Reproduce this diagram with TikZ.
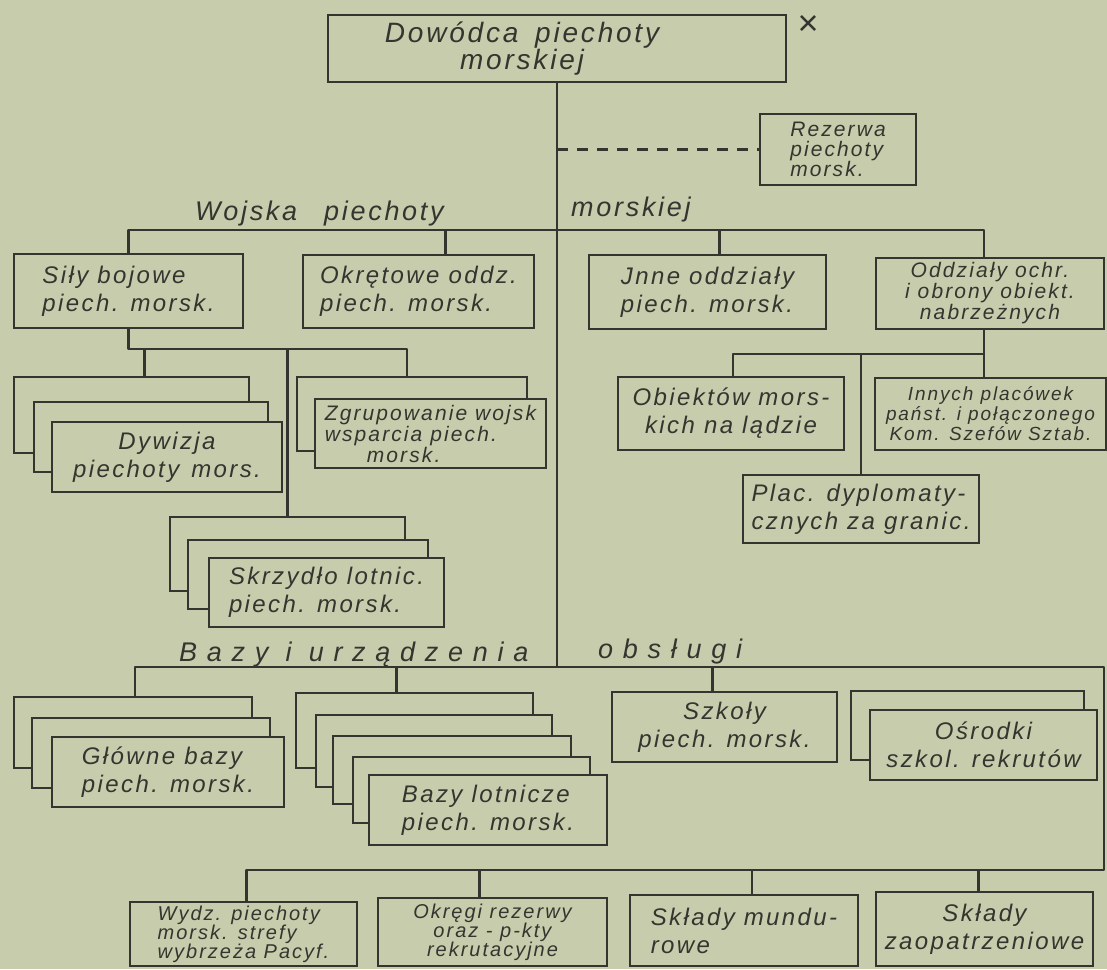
\documentclass[tikz,border=0pt]{standalone}
\usepackage{fontspec}
\setmainfont{Liberation Sans}[LetterSpace=10]
\newfontfamily\spacedfont{Liberation Sans}[LetterSpace=36]
\usepackage{tikz}

\definecolor{paper}{RGB}{199,205,172}
\definecolor{ink}{RGB}{52,53,47}

\tikzset{
  box/.style={draw=ink, fill=paper, line width=2.3pt, inner sep=0pt, align=center, text=ink},
  wh/.style 2 args={minimum width=#1pt, minimum height=#2pt},
  two/.style={font=\itshape\fontsize{24}{28}\selectfont},
  three/.style={font=\itshape\fontsize{21}{21}\selectfont},
  small/.style={font=\itshape\fontsize{20}{19}\selectfont},
  bus/.style={draw=ink, line width=2.3pt, line join=round},
  head/.style={anchor=base west, inner sep=0pt, text=ink, font=\itshape\fontsize{27}{30}\selectfont},
}

\begin{document}
\begin{tikzpicture}[x=1pt,y=1pt,yscale=-1]

% paper
\fill[paper] (0,0) rectangle (1107,969);
\useasboundingbox (0,0) rectangle (1107,969);

% levels of the buses
\coordinate (busA) at (0,230);
\coordinate (busS) at (0,349);
\coordinate (busO) at (0,354);
\coordinate (busB) at (0,667);
\coordinate (busC) at (0,870);
\coordinate (rgt) at (1104,0);

% head
\node[box, wh={458}{67}, font=\itshape\fontsize{28}{27}\selectfont] (boss) at (557,48.5) {Dowódca\hspace{0.6em}piechoty\rule{70pt}{0pt}\\morskiej\rule{70pt}{0pt}};
\node[text=ink, inner sep=0pt, font=\fontsize{36}{36}\selectfont] (mark) at (808,25) {×};
\node[box, wh={156}{71}, align=left, font=\itshape\fontsize{21}{19.5}\selectfont] (rez) at (838,149.5) {Rezerwa\\piechoty\\morsk.};

% headings
\node[head] (hWojska) at (195,220) {Wojska\hspace{1em}piechoty};
\node[head] (hMorskiej) at (571,216) {morskiej};
\node[head, font=\spacedfont\itshape\fontsize{27}{30}\selectfont] (hBazy) at (179,661) {Bazy i urządzenia};
\node[head, font=\spacedfont\itshape\fontsize{27}{30}\selectfont] (hObs) at (598,658) {obsługi};

% upper level
\node[box, two, align=left, wh={229}{74}] (sily) at (128.5,291) {Siły bojowe\\piech. morsk.};
\node[box, two, align=left, wh={231}{73}] (okret) at (418.5,291.5) {Okrętowe oddz.\\piech. morsk.};
\node[box, two, align=left, wh={237}{74}] (inne) at (707.5,292) {Jnne oddziały\\piech. morsk.};
\node[box, three, wh={228}{71}] (odd) at (990,293.5) {Oddziały ochr.\\i obrony obiekt.\\nabrzeżnych};

% Dywizja
\node[box, wh={235}{76}] (dyw1) at (131.5,415) {};
\node[box, wh={234}{70}] (dyw2) at (151,437) {};
\node[box, two, wh={230}{70}] (dyw) at (167,457) {Dywizja\\piechoty\hspace{0.5em}mors.};
% Zgrupowanie
\node[box, wh={230}{74}] (zgr1) at (412,414) {};
\node[box, three, align=left, wh={231}{69}] (zgr) at (430.5,433.5) {Zgrupowanie wojsk\\wsparcia piech.\\\hspace{2em}morsk.};
% Skrzydlo
\node[box, wh={235}{74}] (skr1) at (287.5,554) {};
\node[box, wh={240}{69}] (skr2) at (308,574.5) {};
\node[box, two, align=left, wh={235}{69}] (skr) at (326.5,592.5) {Skrzydło lotnic.\\piech. morsk.};

% under Oddzialy
\node[box, two, wh={226}{73}] (obi) at (731,413.5) {Obiektów mors-\\kich na lądzie};
\node[box, font=\itshape\fontsize{19}{20}\selectfont, wh={231}{72}] (inn) at (990.5,414) {Innych placówek\\państ. i połączonego\\Kom. Szefów Sztab.};
\node[box, two, align=left, wh={236}{68}] (plac) at (861,509) {Plac. dyplomaty-\\cznych za granic.};

% bases
\node[box, wh={238}{71}] (glo1) at (133,732.5) {};
\node[box, wh={238}{70}] (glo2) at (151,753) {};
\node[box, two, align=left, wh={232}{70}] (glo) at (168,772) {Główne bazy\\piech. morsk.};
\node[box, wh={237}{75}] (baz1) at (414.5,730.5) {};
\node[box, wh={236}{72}] (baz2) at (434,751) {};
\node[box, wh={238}{68}] (baz3) at (452,770) {};
\node[box, wh={237}{66}] (baz4) at (471.5,790) {};
\node[box, two, align=left, wh={238}{70}] (baz) at (488,810) {Bazy lotnicze\\piech. morsk.};
\node[box, two, wh={225}{70}] (szk) at (724.5,727) {Szkoły\\piech. morsk.};
\node[box, wh={233}{69}] (osr1) at (967.5,725.5) {};
\node[box, two, wh={227}{70}] (osr) at (983.5,745) {Ośrodki\\szkol. rekrutów};

% bottom row
\node[box, small, align=left, wh={227}{64}] (wyd) at (243.5,934) {Wydz. piechoty\\morsk. strefy\\wybrzeża Pacyf.};
\node[box, small, wh={229}{68}] (okregi) at (492.5,932) {Okręgi rezerwy\\oraz - p-kty\\rekrutacyjne};
\node[box, two, align=left, wh={228}{71}] (mun) at (744,930.5) {Składy mundu-\\rowe};
\node[box, two, wh={217}{74}] (zao) at (984.5,929) {Składy\\zaopatrzeniowe};

% drop points
\coordinate (oddDrop) at ([xshift=-6pt]odd.north);
\coordinate (okDrop) at ([xshift=27pt]okret.north);
\coordinate (inDrop) at ([xshift=12pt]inne.north);
\coordinate (dywDrop) at ([xshift=13pt]dyw1.north);
\coordinate (zgrDrop) at ([xshift=-5pt]zgr1.north);
\coordinate (oddFoot) at ([xshift=-6pt]odd.south);
\coordinate (obiDrop) at ([xshift=2pt]obi.north);
\coordinate (gloDrop) at ([xshift=2pt]glo1.north);
\coordinate (bazDrop) at ([xshift=-18pt]baz1.north);
\coordinate (szkDrop) at ([xshift=-12pt]szk.north);
\coordinate (wydDrop) at ([xshift=3pt]wyd.north);
\coordinate (okgDrop) at ([xshift=-13pt]okregi.north);
\coordinate (munDrop) at ([xshift=8pt]mun.north);
\coordinate (zaoDrop) at ([xshift=-6pt]zao.north);

% connectors
\draw[bus] (boss.south) -- (boss.south |- busB);
\draw[bus, dash pattern=on 11pt off 9pt] (boss.south |- rez.west) -- (rez.west);

\draw[bus] (sily.north) |- (oddDrop |- busA) -- (oddDrop);
\draw[bus] (okDrop) -- (okDrop |- busA);
\draw[bus] (inDrop) -- (inDrop |- busA);

\draw[bus] (sily.south) |- (zgrDrop |- busS) -- (zgrDrop);
\draw[bus] (dywDrop) -- (dywDrop |- busS);
\draw[bus] (skr1.north) -- (skr1.north |- busS);

\draw[bus] (oddFoot) |- (obiDrop |- busO) -- (obiDrop);
\draw[bus] (inn.north -| oddFoot) -- (oddFoot |- busO);
\draw[bus] (plac.north) -- (plac.north |- busO);

\draw[bus] (gloDrop) |- (rgt |- busB) -- (rgt |- busC) -| (wydDrop);
\draw[bus] (bazDrop) -- (bazDrop |- busB);
\draw[bus] (szkDrop) -- (szkDrop |- busB);
\draw[bus] (okgDrop) -- (okgDrop |- busC);
\draw[bus] (munDrop) -- (munDrop |- busC);
\draw[bus] (zaoDrop) -- (zaoDrop |- busC);

\end{tikzpicture}
\end{document}
